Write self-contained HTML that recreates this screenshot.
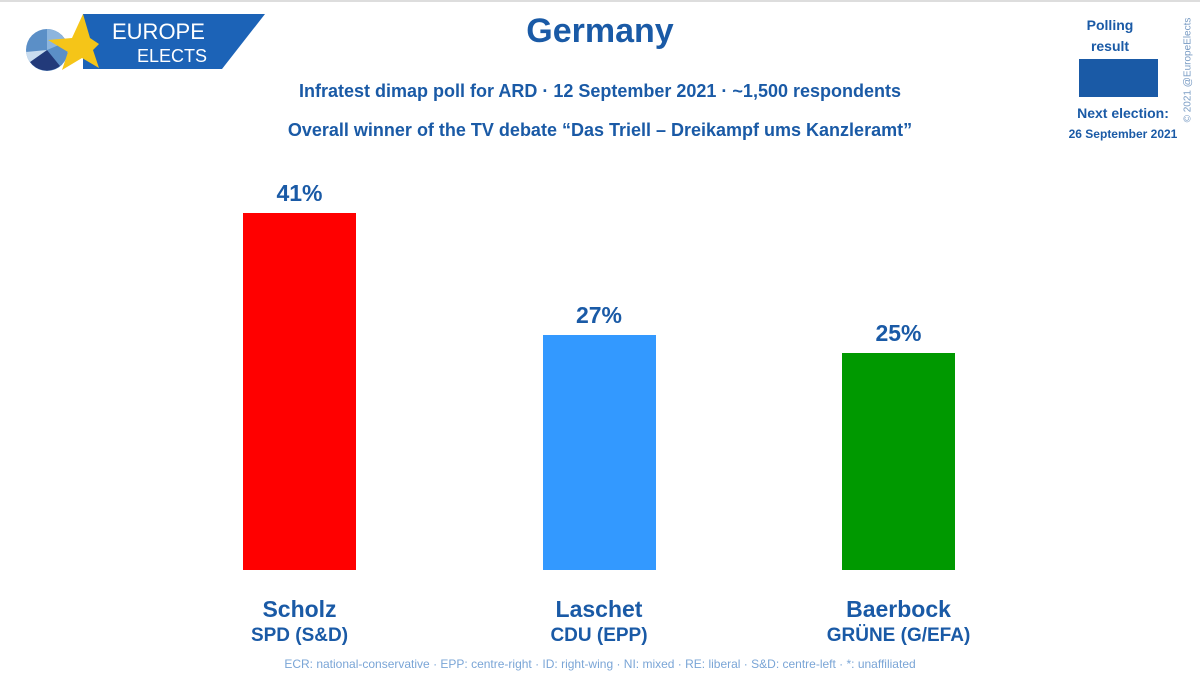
<!DOCTYPE html>
<html><head><meta charset="utf-8"><style>
body{margin:0;width:1200px;height:680px;background:#fff;font-family:"Liberation Sans",sans-serif;position:relative;overflow:hidden;color:#1a5aa6}
.t{position:absolute;white-space:nowrap;text-align:center;font-weight:bold}
</style></head><body>
<div style="position:absolute;left:0;top:0;width:1200px;height:2px;background:#ddd"></div>
<svg style="position:absolute;left:0;top:0" width="300" height="90">
<polygon points="83,14 265,14 222,69 83,69" fill="#1c63b7"/>
<circle cx="47" cy="50" r="21" fill="#5b8fc7"/>
<path d="M47,50 L47,29 A21,21 0 0,1 66,42 Z" fill="#8db5de"/>
<path d="M47,50 L30,62 A21,21 0 0,0 60,66 Z" fill="#223a7a"/>
<path d="M47,50 L26,52 A21,21 0 0,0 30,62 Z" fill="#c9dcef"/>
<polygon points="83,14 72,38 48,40 68,52 62,70 82,58 99,68 93,50 99,44 90,38" fill="#f5c518"/>
<text x="112" y="39" font-family="Liberation Sans" font-size="22" fill="#fff">EUROPE</text>
<text x="137" y="62" font-family="Liberation Sans" font-size="18" fill="#fff">ELECTS</text>
</svg>
<div class="t" style="left:0;width:1200px;top:12px;font-size:34px">Germany</div>
<div class="t" style="left:0;width:1200px;top:81px;font-size:18px">Infratest dimap poll for ARD · 12 September 2021 · ~1,500 respondents</div>
<div class="t" style="left:0;width:1200px;top:120px;font-size:18px">Overall winner of the TV debate “Das Triell – Dreikampf ums Kanzleramt”</div>
<div class="t" style="left:1060px;width:100px;top:15px;font-size:14px;line-height:21px">Polling<br>result</div>
<div style="position:absolute;left:1079px;top:59px;width:79px;height:38px;background:#1a5aa6"></div>
<div class="t" style="left:1060px;width:126px;top:105px;font-size:14px">Next election:</div>
<div class="t" style="left:1060px;width:126px;top:127px;font-size:12px">26 September 2021</div>
<div class="t" style="left:1188px;top:70px;font-size:10px;font-weight:normal;color:#7a9cc4;transform:translate(-50%,-50%) rotate(-90deg);transform-origin:center">© 2021 @EuropeElects</div>
<div id="chart"></div>
<div class="t" style="left:0;width:1200px;top:657px;font-size:12px;font-weight:normal;color:#7aa5d6">ECR: national-conservative · EPP: centre-right · ID: right-wing · NI: mixed · RE: liberal · S&amp;D: centre-left · *: unaffiliated</div>
<script>
const names=["Scholz","Laschet","Baerbock"];
const parties=["SPD (S&D)","CDU (EPP)","GRÜNE (G/EFA)"];
const values=[41,27,25];
const colors=["#ff0000","#3399ff","#009900"];
const base=570, scale=8.7, x0=243, step=299.5, bw=113;
const c=document.getElementById('chart');
function y(v){return base-v*scale;}
values.forEach((v,i)=>{
 const x=x0+i*step;
 const b=document.createElement('div');
 b.style.cssText=`position:absolute;left:${x}px;top:${y(v)}px;width:${bw}px;height:${base-y(v)}px;background:${colors[i]}`;
 
 
 c.appendChild(b);
 const l=document.createElement('div');
 l.className='t';
 l.style.cssText=`left:${x-40}px;width:${bw+80}px;top:${y(v)-33}px;font-size:23px`;
 l.textContent=v+'%';
 
 
 c.appendChild(l);
 const n=document.createElement('div');
 n.className='t';
 n.style.cssText=`left:${x-80}px;width:${bw+160}px;top:596px;font-size:23px`;
 n.textContent=names[i];
 
 
 c.appendChild(n);
 const p=document.createElement('div');
 p.className='t';
 p.style.cssText=`left:${x-80}px;width:${bw+160}px;top:625px;font-size:19px`;
 p.textContent=parties[i];
 
 
 c.appendChild(p);
});
</script>
</body></html>
